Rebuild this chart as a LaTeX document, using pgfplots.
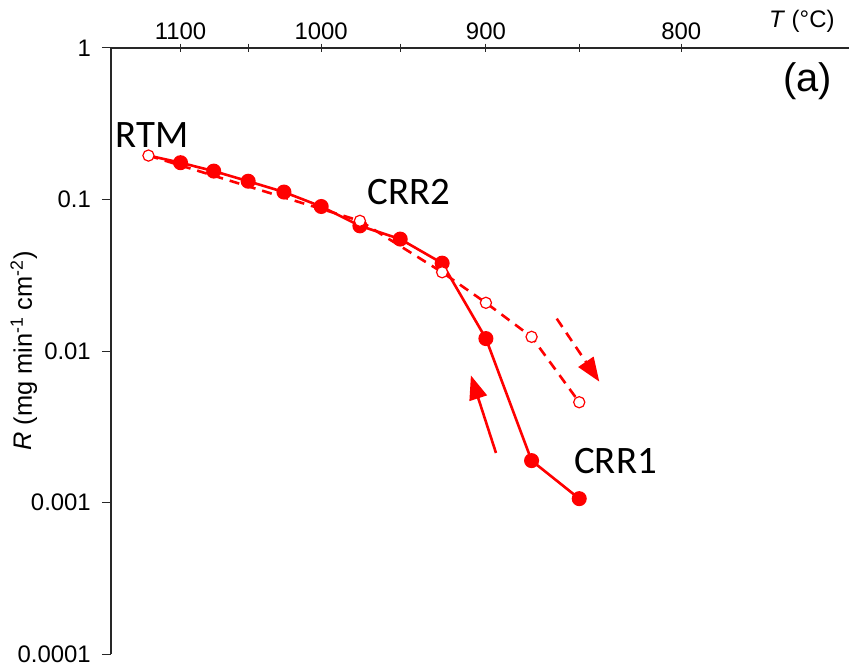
\documentclass[border=0pt]{standalone}
\usepackage{fontspec}
\setmainfont{Liberation Sans}
\newfontfamily\curvefont{Carlito}
\usepackage{pgfplots}
\usepackage{pgfplotstable}
\pgfplotsset{compat=1.18}
\usetikzlibrary{arrows.meta}

% Heating run (CRR1), starting from the RTM point
\pgfplotstableread{
T    R
1125 0.195
1100 0.175
1075 0.154
1050 0.132
1025 0.112
1000 0.0899
975  0.0670
950  0.0548
925  0.0380
900  0.01208
875  0.00189
850  0.00106
}\heating

% Cooling run (CRR2), starting from the RTM point
\pgfplotstableread{
T    R
1125 0.195
975  0.0723
925  0.0331
900  0.0208
875  0.0124
850  0.00459
}\cooling

\definecolor{axisgray}{RGB}{40,40,40}

\begin{document}
\begin{tikzpicture}
\begin{axis}[
  scale only axis,
  width=738bp, height=606bp,
  xmin=7, xmax=10,
  ymode=log, ymin=1e-4, ymax=1,
  axis x line=top, axis y line=left,
  axis line style={-, draw=axisgray, line width=1.1bp},
  % Arrhenius scale: position is 10^4/T(K), labels in degrees Celsius
  xtick={7.2825,7.5577,7.8545,8.1756,8.5240,8.9035,9.3184},
  xticklabels={1100,,1000,,900,,800},
  xtick pos=top, xtick align=center,
  ytick={1e-4,1e-3,1e-2,1e-1,1},
  yticklabels={0.0001,0.001,0.01,0.1,1},
  ytick pos=left, ytick align=outside,
  yminorticks=false,
  major tick length=9bp,
  tick style={draw=axisgray, line width=1bp},
  /pgf/number format/assume math mode=true,
  x tick label style={font=\fontsize{24}{28}\selectfont},
  y tick label style={font=\fontsize{24}{28}\selectfont, inner sep=1bp, xshift=-10bp},
  ylabel={\textit{R} (mg min\textsuperscript{-1} cm\textsuperscript{-2})},
  ylabel style={at={(axis description cs:-0.118,0.5)}, anchor=center,
                font=\fontsize{25.5}{30}\selectfont},
  clip=false,
]
% heating curve: solid line, filled markers (the RTM point is drawn open below)
\addplot[red, line width=2.6bp, mark=*, mark size=6.2bp, mark phase=2, mark repeat=1]
  table[x expr={10000/(\thisrow{T}+273.15)}, y=R] {\heating};
% cooling curve: dashed line, open markers
\addplot[red, line width=2.6bp, dash pattern=on 10bp off 7bp,
  mark=*, mark size=5.6bp, mark options={solid, fill=white, draw=red, line width=1.2bp}]
  table[x expr={10000/(\thisrow{T}+273.15)}, y=R] {\cooling};

% direction arrows
\draw[red, line width=2.6bp, -{Triangle[length=24bp,width=18bp]}]
  (axis cs:8.565,0.002123) -- (axis cs:8.463,0.006902);
\draw[red, line width=2.6bp, dash pattern=on 10bp off 7bp, -{Triangle[length=24bp,width=18bp]}]
  (axis cs:8.812,0.01635) -- (axis cs:8.985,0.006275);

% curve names
\node[anchor=base, font=\curvefont\fontsize{39}{44}\selectfont, inner sep=0pt]
  at (rel axis cs:0.0556,0.836) {RTM};
\node[anchor=base, font=\curvefont\fontsize{39}{44}\selectfont, inner sep=0pt]
  at (rel axis cs:0.4038,0.742) {CRR2};
\node[anchor=base, font=\curvefont\fontsize{39}{44}\selectfont, inner sep=0pt]
  at (rel axis cs:0.6836,0.298) {CRR1};
\node[anchor=base, font=\fontsize{40}{46}\selectfont, inner sep=0pt]
  at (rel axis cs:0.9438,0.928) {(a)};
% temperature axis title
\node[anchor=base, font=\fontsize{24}{28}\selectfont, inner sep=0pt]
  at (rel axis cs:0.936,1) [yshift=20bp] {\textit{T} (°C)};
\end{axis}
\pgfresetboundingbox
\path (-111bp,-12bp) rectangle (738bp,654bp);
\end{tikzpicture}
\end{document}
